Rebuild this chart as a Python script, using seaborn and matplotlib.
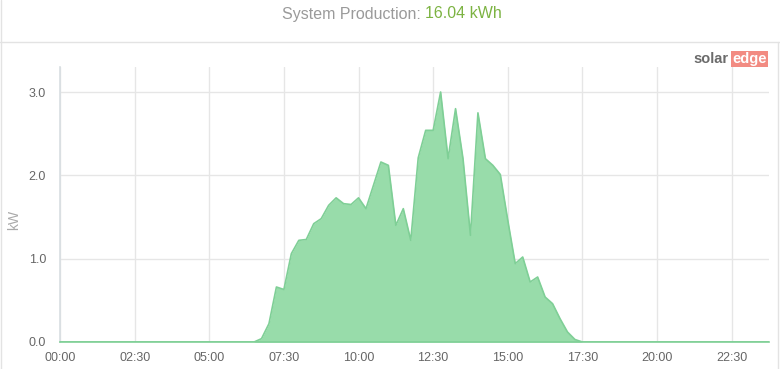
import numpy as np
import pandas as pd
import matplotlib
matplotlib.use("Agg")
import matplotlib.pyplot as plt
import seaborn as sns
from matplotlib.lines import Line2D

# ---- data (15-minute intervals, kW) ----
power_kw = (
    [0.0] * 26 +
    [0.0, 0.04, 0.22, 0.66, 0.63, 1.06, 1.22, 1.23, 1.42, 1.48,
     1.64, 1.73, 1.66, 1.65, 1.73, 1.60, 1.88, 2.16, 2.12, 1.40,
     1.60, 1.22, 2.21, 2.54, 2.54, 3.00, 2.20, 2.80, 2.20, 1.28,
     2.75, 2.20, 2.12, 2.01, 1.46, 0.94, 1.02, 0.72, 0.78, 0.54,
     0.46, 0.28, 0.12, 0.03] +
    [0.0] * 26
)
minutes = [15 * i for i in range(len(power_kw))]
tick_minutes = [0, 150, 300, 450, 600, 750, 900, 1050, 1200, 1350]
tick_labels = ["00:00", "02:30", "05:00", "07:30", "10:00",
               "12:30", "15:00", "17:30", "20:00", "22:30"]
y_ticks = [0.0, 1.0, 2.0, 3.0]
y_labels = ["0.0", "1.0", "2.0", "3.0"]
title_label = "System Production:"
title_value = "16.04 kWh"

df = pd.DataFrame({"minute": minutes, "kw": power_kw})

sns.set_style("white")
plt.rcParams["font.family"] = ["Liberation Sans", "DejaVu Sans"]

W, H = 780, 369
fig = plt.figure(figsize=(W / 100, H / 100), dpi=100)
ax = fig.add_axes([60 / W, 27 / H, (769 - 60) / W, (342 - 67) / H])

fill_col = "#98dcaa"
line_col = "#7fcf96"
ax.fill_between(df["minute"], df["kw"], 0, color=fill_col, lw=0, zorder=2)
sns.lineplot(data=df, x="minute", y="kw", ax=ax, color=line_col, lw=1.2, zorder=3)

ax.set_xlim(0, 1425)
ax.set_ylim(0, 3.3)
ax.set_xticks(tick_minutes)
ax.set_xticklabels(tick_labels)
ax.set_yticks(y_ticks)
ax.set_yticklabels(y_labels)
ax.grid(True, color="#e6e6e6", lw=1, zorder=0)
ax.set_axisbelow(True)
ax.tick_params(axis="both", length=0, labelsize=9, colors="#666666")
ax.tick_params(axis="x", pad=7)
ax.tick_params(axis="y", pad=10)
ax.set_xlabel("")
ax.set_ylabel("")
for s in ["top", "right"]:
    ax.spines[s].set_visible(False)
ax.spines["left"].set_color("#d8dee2")
ax.spines["left"].set_linewidth(1.2)
ax.spines["bottom"].set_color(line_col)
ax.spines["bottom"].set_linewidth(1.2)

fig.text(14 / W, 1 - 220 / H, "kW", rotation=90, ha="center", va="center",
         fontsize=10, color="#aaaaaa")

# header
fig.text(421 / W, 1 - 14 / H, title_label, ha="right", va="center",
         fontsize=11.5, color="#9a9a9a")
fig.text(425 / W, 1 - 14 / H, title_value, ha="left", va="center",
         fontsize=11.5, color="#7cb342")
fig.add_artist(Line2D([0, 1], [1 - 42 / H, 1 - 42 / H], color="#e3e3e3", lw=1))
fig.add_artist(Line2D([1 / W, 1 / W], [0, 1], color="#e3e3e3", lw=1))
fig.add_artist(Line2D([778 / W, 778 / W], [0, 1 - 42 / H], color="#e3e3e3", lw=1))

# logo
fig.text(729 / W, 1 - 59 / H, "solar", ha="right", va="center",
         fontsize=10.5, fontweight="bold", color="#6b6b6b")
fig.text(732 / W, 1 - 59 / H, "edge", ha="left", va="center",
         fontsize=10.5, fontweight="bold", color="white",
         bbox=dict(boxstyle="square,pad=0.08", fc="#f28b82", ec="none"))

fig.savefig("out.png", dpi=100, facecolor="white")
